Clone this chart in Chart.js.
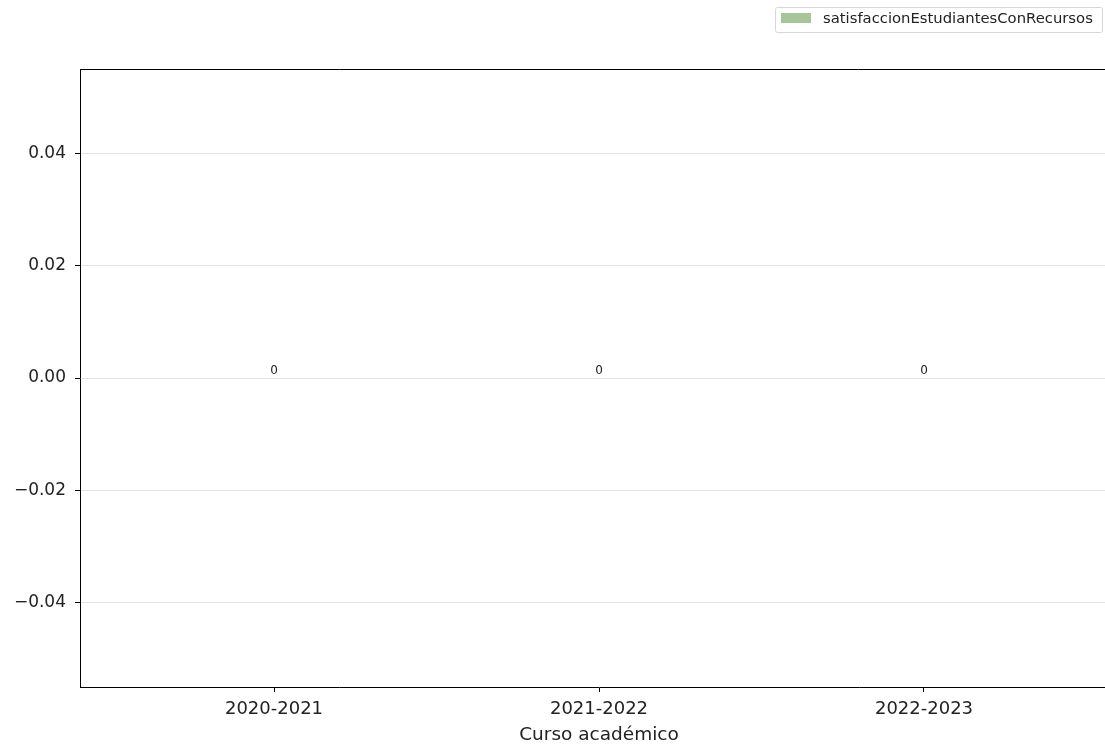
<!DOCTYPE html>
<html>
<head>
<meta charset="utf-8">
<script src="https://cdn.jsdelivr.net/npm/chart.js@4"></script>
<style>
  html, body { margin: 0; padding: 0; background: #fff; overflow: hidden; }
  #wrap { width: 1105px; height: 746px; overflow: hidden; }
</style>
</head>
<body>
<div id="wrap"><canvas id="myChart" width="1120" height="746"></canvas></div>
<script>
const cursos = ["2020-2021", "2021-2022", "2022-2023"];
const satisfaccion = [0, 0, 0];
const yTicks = [-0.04, -0.02, 0, 0.02, 0.04];
const serieLabel = "satisfaccionEstudiantesConRecursos";
const barColor = "#a8c49a";
const font = "DejaVu Sans";

// top spine + legend box + value labels
const extras = {
  id: "extras",
  afterDraw(chart) {
    const ctx = chart.ctx;
    const a = chart.chartArea;
    ctx.save();
    ctx.strokeStyle = "#000";
    ctx.lineWidth = 1;
    ctx.beginPath();
    ctx.moveTo(a.left, a.top + 0.5);
    ctx.lineTo(a.right, a.top + 0.5);
    ctx.stroke();

    // value labels
    const meta = chart.getDatasetMeta(0);
    ctx.fillStyle = "#222";
    ctx.font = "12px '" + font + "'";
    ctx.textAlign = "center";
    ctx.textBaseline = "bottom";
    meta.data.forEach((bar, i) => {
      ctx.fillText(String(satisfaccion[i]), bar.x, bar.y - 1);
    });

    // legend
    const bx = 775, by = 7.5, bh = 25;
    const bw = 1102 - bx;
    ctx.strokeStyle = "#d6d6d6";
    ctx.beginPath();
    ctx.roundRect(bx + 0.5, by, bw, bh, 2);
    ctx.fillStyle = "#fff";
    ctx.fill();
    ctx.stroke();
    ctx.fillStyle = barColor;
    ctx.fillRect(781, 13, 30, 10);
    ctx.fillStyle = "#222";
    ctx.font = "14.8px '" + font + "'";
    ctx.textAlign = "left";
    ctx.textBaseline = "middle";
    ctx.fillText(serieLabel, 823, 19);
    ctx.restore();
  }
};

const data = {
  datasets: [{
    label: serieLabel,
    backgroundColor: barColor,
    data: satisfaccion.map((v, i) => ({ x: i, y: v })),
    barPercentage: 0.8,
    categoryPercentage: 1
  }]
};

const config = {
  type: "bar",
  data: data,
  options: {
    responsive: false,
    animation: false,
    layout: { padding: { top: 69, right: 2, left: 0, bottom: 0 } },
    plugins: { legend: { display: false }, tooltip: { enabled: false } },
    scales: {
      x: {
        type: "linear",
        offset: false,
        min: -0.597,
        max: 2.597,
        afterBuildTicks: s => { s.ticks = cursos.map((c, i) => ({ value: i })); },
        afterFit: s => { s.height = 59; },
        ticks: {
          color: "#222",
          font: { family: font, size: 18 },
          padding: 7,
          maxRotation: 0,
          callback: v => cursos[v]
        },
        grid: { offset: false, drawOnChartArea: false, drawTicks: true, tickLength: 5, tickColor: "#000" },
        border: { color: "#000", width: 1 },
        title: {
          display: true,
          text: "Curso académico",
          color: "#222",
          font: { family: font, size: 18.5 },
          padding: { top: 0, bottom: 0 }
        }
      },
      y: {
        min: -0.055,
        max: 0.055,
        afterBuildTicks: s => { s.ticks = yTicks.map(v => ({ value: v })); },
        afterFit: s => { s.width = 80; },
        ticks: {
          color: "#222",
          font: { family: font, size: 17 },
          padding: 9,
          callback: v => (v < 0 ? "\u2212" : "") + Math.abs(v).toFixed(2)
        },
        grid: { color: "#e3e3e3", drawTicks: true, tickLength: 5, tickColor: "#000" },
        border: { color: "#000", width: 1 }
      }
    }
  },
  plugins: [extras]
};

var myChart = new Chart(document.getElementById("myChart"), config);
</script>
</body>
</html>
